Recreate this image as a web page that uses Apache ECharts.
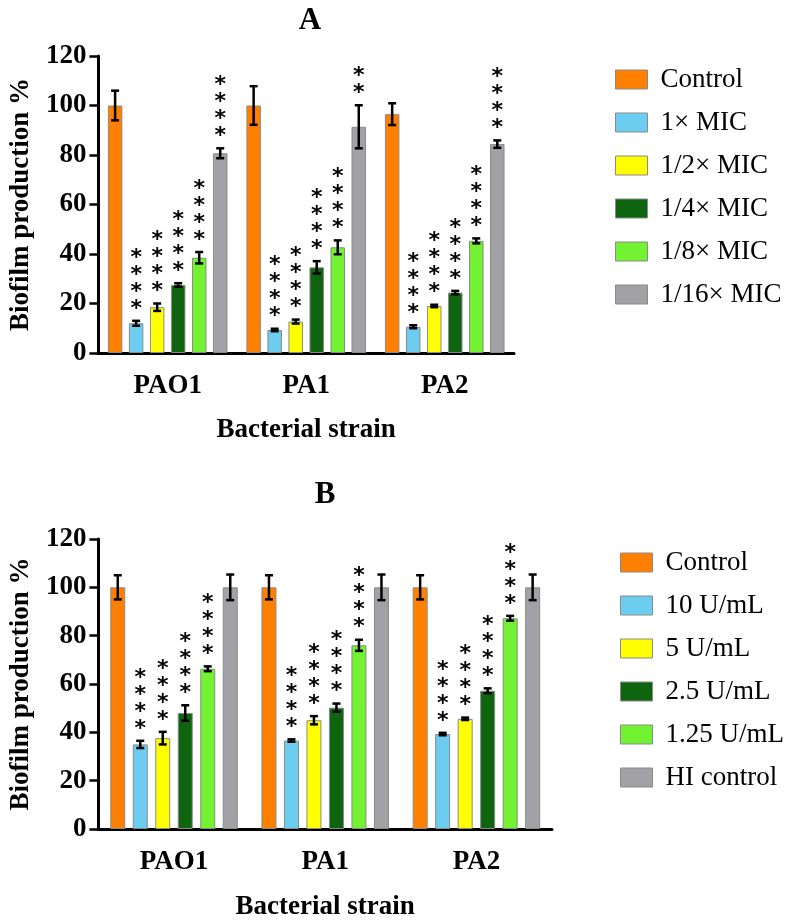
<!DOCTYPE html>
<html><head><meta charset="utf-8">
<script src="https://cdn.jsdelivr.net/npm/echarts@6/dist/echarts.min.js"></script>
<style>html,body{margin:0;padding:0;background:#fff}#c{width:786px;height:922px}</style>
</head><body><div id="c"></div>
<script>
const categories = ['PAO1', 'PA1', 'PA2'];
const yTicks = [0, 20, 40, 60, 80, 100, 120];

const namesA = ['Control', '1× MIC', '1/2× MIC', '1/4× MIC', '1/8× MIC', '1/16× MIC'];
const controlA = [100, 100, 96.5];
const mic1A = [12, 9.3, 10.6];
const mic2A = [18.5, 12.7, 19];
const mic4A = [27.5, 34.6, 24.4];
const mic8A = [38.5, 42.7, 45.3];
const mic16A = [80.7, 91.4, 84.4];
const errControlA = [6, 7.8, 4.4];
const errMic1A = [1, 0.5, 0.6];
const errMic2A = [1.5, 0.8, 0.5];
const errMic4A = [0.7, 2.5, 0.7];
const errMic8A = [2.3, 2.8, 1];
const errMic16A = [2, 8.7, 1.5];
const starsA = [[0, 0, 0], [4, 4, 4], [4, 4, 4], [4, 4, 4], [4, 4, 4], [4, 2, 4]];

const namesB = ['Control', '10 U/mL', '5 U/mL', '2.5 U/mL', '1.25 U/mL', 'HI control'];
const controlB = [100, 100, 100];
const u10B = [35, 36.6, 39.3];
const u5B = [37.6, 45, 45.6];
const u25B = [48, 50.2, 57.2];
const u125B = [66.3, 76, 87.2];
const hiB = [100, 100, 100];
const errControlB = [5, 5, 5];
const errU10B = [1.5, 0.5, 0.5];
const errU5B = [2.6, 1.7, 0.5];
const errU25B = [3.2, 1.7, 1];
const errU125B = [1, 2.3, 1];
const errHiB = [5.3, 5.3, 5.3];
const starsB = [[0, 0, 0], [4, 4, 4], [4, 4, 4], [4, 4, 4], [4, 4, 4], [0, 0, 0]];

const colors = ['#FF8000', '#6CCDF0', '#FFFF00', '#0F640F', '#72F230', '#A2A2A6'];

const valsA = [controlA, mic1A, mic2A, mic4A, mic8A, mic16A];
const errsA = [errControlA, errMic1A, errMic2A, errMic4A, errMic8A, errMic16A];
const valsB = [controlB, u10B, u5B, u25B, u125B, hiB];
const errsB = [errControlB, errU10B, errU5B, errU25B, errU125B, errHiB];

const SERIF = '"Liberation Serif","Times New Roman",serif';
const FS = 27;

const geom = [
  { left: 95, top: 56, width: 419, height: 297, barW: 14.5, gap: 0.45 },
  { left: 95, top: 539, width: 457, height: 299, barW: 15, gap: 0.5 }
];

function makeAxes(i) {
  return {
    x: {
      type: 'category', gridIndex: i, data: categories,
      name: 'Bacterial strain', nameLocation: 'middle', nameGap: i === 0 ? 64 : 65,
      nameTextStyle: { fontFamily: SERIF, fontWeight: 'bold', fontSize: FS, color: '#000' },
      axisLine: { lineStyle: { color: '#000', width: 3 } },
      axisTick: { alignWithLabel: true, length: 9, lineStyle: { color: '#000', width: 2.5 } },
      axisLabel: { fontFamily: SERIF, fontWeight: 'bold', fontSize: FS, color: '#000', margin: 20 }
    },
    y: {
      type: 'value', gridIndex: i, min: yTicks[0], max: yTicks[yTicks.length - 1], interval: 20,
      name: 'Biofilm production %', nameLocation: 'middle', nameGap: 60, nameRotate: 90,
      nameTextStyle: { fontFamily: SERIF, fontWeight: 'bold', fontSize: FS, color: '#000' },
      axisLine: { show: true, lineStyle: { color: '#000', width: 3 } },
      axisTick: { show: true, length: 9, lineStyle: { color: '#000', width: 2.5 } },
      axisLabel: { fontFamily: SERIF, fontWeight: 'bold', fontSize: FS, color: '#000', margin: 12 },
      splitLine: { show: false }
    }
  };
}

const axA = makeAxes(0), axB = makeAxes(1);
const series = [];

function addChart(idx, names, vals, errs, stars) {
  const g = geom[idx];
  names.forEach((n, si) => {
    series.push({
      type: 'bar', name: n, xAxisIndex: idx, yAxisIndex: idx,
      data: vals[si], barWidth: g.barW, barGap: (g.gap * 100) + '%',
      itemStyle: { color: colors[si], borderColor: '#8a8a8a', borderWidth: 1 },
      emphasis: { disabled: true }, animation: false
    });
  });
  const data = [];
  vals.forEach((arr, si) => arr.forEach((v, ci) => data.push([ci, v, errs[si][ci], si, stars[si][ci]])));
  series.push({
    type: 'custom', xAxisIndex: idx, yAxisIndex: idx, data: data, z: 10, animation: false,
    encode: { x: 0, y: 1 }, silent: true,
    renderItem: function (params, api) {
      const ci = api.value(0), v = api.value(1), e = api.value(2), si = api.value(3), ns = api.value(4);
      const base = api.coord([ci, 0]);
      const pitch = g.barW * (1 + g.gap);
      const x = base[0] + (si - 2.5) * pitch;
      const yt = api.coord([ci, v + e])[1];
      const yb = api.coord([ci, v - e])[1];
      const cap = 4;
      const st = { stroke: '#000', lineWidth: 2.5 };
      const ch = [
        { type: 'line', shape: { x1: x, y1: yt, x2: x, y2: yb }, style: st },
        { type: 'line', shape: { x1: x - cap, y1: yt, x2: x + cap, y2: yt }, style: st },
        { type: 'line', shape: { x1: x - cap, y1: yb, x2: x + cap, y2: yb }, style: st }
      ];
      for (let k = 0; k < ns; k++) {
        ch.push({
          type: 'text',
          style: {
            text: '*', x: x, y: yt - 18 - 17 * k + 6,
            fill: '#000', font: 'bold 22px "DejaVu Sans"',
            textAlign: 'center', textVerticalAlign: 'middle'
          }
        });
      }
      return { type: 'group', children: ch };
    }
  });
}

addChart(0, namesA, valsA, errsA, starsA);
addChart(1, namesB, valsB, errsB, starsB);

const legendCommon = {
  orient: 'vertical', itemWidth: 32, itemHeight: 19, itemGap: 16, icon: 'rect',
  textStyle: { fontFamily: SERIF, fontSize: FS, color: '#000', lineHeight: 27, padding: [0, 0, 0, 8] },
  itemStyle: { borderColor: '#8a8a8a', borderWidth: 1 }, selectedMode: false
};

const option = {
  backgroundColor: '#fff',
  animation: false,
  title: [
    { text: 'A', left: 305, top: 0, textAlign: 'center', textStyle: { fontFamily: SERIF, fontWeight: 'bold', fontSize: 31, color: '#000' } },
    { text: 'B', left: 320, top: 474, textAlign: 'center', textStyle: { fontFamily: SERIF, fontWeight: 'bold', fontSize: 31, color: '#000' } }
  ],
  grid: geom.map(g => ({ left: g.left, top: g.top, width: g.width, height: g.height })),
  xAxis: [axA.x, axB.x],
  yAxis: [axA.y, axB.y],
  legend: [
    Object.assign({}, legendCommon, { left: 610, top: 61, data: namesA }),
    Object.assign({}, legendCommon, { left: 615, top: 544, data: namesB })
  ],
  series: series
};

const chart = echarts.init(document.getElementById('c'), null, { renderer: 'canvas' });
chart.setOption(option);
</script>
</body></html>
